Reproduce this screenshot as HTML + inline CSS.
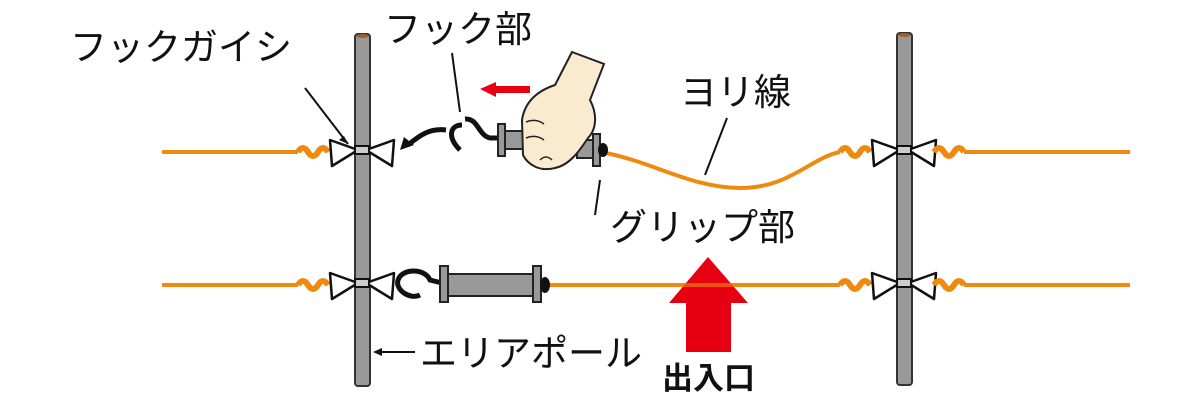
<!DOCTYPE html>
<html><head><meta charset="utf-8"><style>
html,body{margin:0;padding:0;background:#fff;width:1200px;height:400px;overflow:hidden}
text{font-family:"Liberation Sans","Noto Sans CJK JP",sans-serif;fill:#111}
</style></head><body>
<svg width="1200" height="400" viewBox="0 0 1200 400" xmlns="http://www.w3.org/2000/svg">
<defs>
<g id="ins">
<path d="M-32,-10 L-4,0 L-30,16 Z M32,-10 L4,0 L30,16 Z" fill="#fff" stroke="#111" stroke-width="2.5" stroke-linejoin="round"/>
<rect x="-7" y="-4" width="14" height="8" fill="#ccc" stroke="#111" stroke-width="2"/>
</g>
<g id="wig">
<path d="M0,0 q5,-8 10,0 q5,8 10,0 q5,-8 10,0" fill="none" stroke="#ef8a10" stroke-width="6"/>
</g>
</defs>
<rect x="355" y="34" width="15" height="352" rx="3" fill="#999" stroke="#333" stroke-width="2"/>
<ellipse cx="362.5" cy="36" rx="6" ry="2" fill="#a0602a"/>
<rect x="897" y="33" width="15" height="352" rx="3" fill="#999" stroke="#333" stroke-width="2"/>
<ellipse cx="904.5" cy="35" rx="6" ry="2" fill="#a0602a"/>

<line x1="162" y1="152" x2="298" y2="152" stroke="#ef8a10" stroke-width="4"/>
<use href="#wig" x="298" y="152"/>
<use href="#ins" x="362" y="150"/>
<line x1="162" y1="285" x2="298" y2="285" stroke="#ef8a10" stroke-width="4"/>
<use href="#wig" x="298" y="285"/>
<use href="#ins" x="362" y="283"/>

<path d="M600,152 C650,160 690,188 740,188 C790,188 810,158 840,152" fill="none" stroke="#ef8a10" stroke-width="4"/>
<use href="#wig" x="840" y="152"/>
<use href="#ins" x="904" y="150"/>
<use href="#wig" x="934" y="152"/>
<line x1="964" y1="152" x2="1130" y2="152" stroke="#ef8a10" stroke-width="4"/>
<line x1="545" y1="285" x2="840" y2="285" stroke="#ef8a10" stroke-width="4"/>
<use href="#wig" x="840" y="285"/>
<use href="#ins" x="904" y="283"/>
<use href="#wig" x="934" y="285"/>
<line x1="964" y1="285" x2="1130" y2="285" stroke="#ef8a10" stroke-width="4"/>

<line x1="305" y1="88" x2="348" y2="144" stroke="#111" stroke-width="2"/>
<path d="M348,144 l-9,-4 l5,-4 z" fill="#111"/>
<line x1="452" y1="53" x2="460" y2="112" stroke="#111" stroke-width="2"/>
<line x1="600" y1="180" x2="595" y2="215" stroke="#111" stroke-width="2"/>
<line x1="727" y1="118" x2="705" y2="175" stroke="#111" stroke-width="2"/>

<path d="M446,130 C430,128 420,135 408,145" fill="none" stroke="#111" stroke-width="5"/>
<path d="M400,150 l4,-13 l10,8 z" fill="#111"/>
<path d="M462,125 C450,125 447,137 460,150" fill="none" stroke="#111" stroke-width="5"/>
<path d="M465,119 C478,118 478,135 490,138 L500,138" fill="none" stroke="#111" stroke-width="5"/>
<rect x="498" y="124" width="7" height="32" fill="#999" stroke="#222" stroke-width="2"/>
<rect x="505" y="131" width="20" height="18" fill="#999" stroke="#222" stroke-width="2"/>
<rect x="577" y="140" width="20" height="18" fill="#999" stroke="#222" stroke-width="2"/>
<rect x="593" y="134" width="7" height="32" fill="#999" stroke="#222" stroke-width="2"/>
<ellipse cx="603" cy="150" rx="5" ry="7" fill="#111"/>
<path d="M572,52 L604,64 L590,100 C598,115 596,130 588,138 C580,150 570,165 555,168 C540,172 528,165 523,155 L522,120 C525,100 540,90 555,85 Z" fill="#faebd0" stroke="#222" stroke-width="2"/>
<path d="M526,122 q10,-4 18,2 M526,138 q10,-4 18,2 M540,160 q6,-6 12,0" fill="none" stroke="#222" stroke-width="1.5"/>

<path d="M480,89 L496,82 L496,86 L530,86 L530,93 L496,93 L496,97 Z" fill="#e60012"/>

<path d="M420,295 C410,300 395,290 398,280 C402,268 425,268 430,280 L442,283" fill="none" stroke="#111" stroke-width="5"/>
<rect x="440" y="266" width="8" height="36" fill="#999" stroke="#222" stroke-width="2"/>
<rect x="448" y="274" width="88" height="22" fill="#999" stroke="#222" stroke-width="2"/>
<rect x="533" y="266" width="8" height="36" fill="#999" stroke="#222" stroke-width="2"/>
<ellipse cx="545" cy="285" rx="5" ry="8" fill="#111"/>

<path d="M708,257 L748,303 L731,303 L731,352 L686,352 L686,303 L669,303 Z" fill="#e60012"/>
<line x1="669" y1="285" x2="748" y2="285" stroke="#ef8a10" stroke-width="4" opacity="0.6"/>

<line x1="378" y1="352" x2="415" y2="352" stroke="#111" stroke-width="2"/>
<path d="M373,352 l9,-4 l0,8 z" fill="#111"/>

<text x="70" y="60" font-size="37">フックガイシ</text>
<text x="384" y="42" font-size="37">フック部</text>
<text x="680" y="105" font-size="37">ヨリ線</text>
<text x="610" y="240" font-size="37">グリップ部</text>
<text x="420" y="366" font-size="37">エリアポール</text>
<text x="662" y="389" font-size="31" font-weight="bold">出入口</text>
</svg>
</body></html>
